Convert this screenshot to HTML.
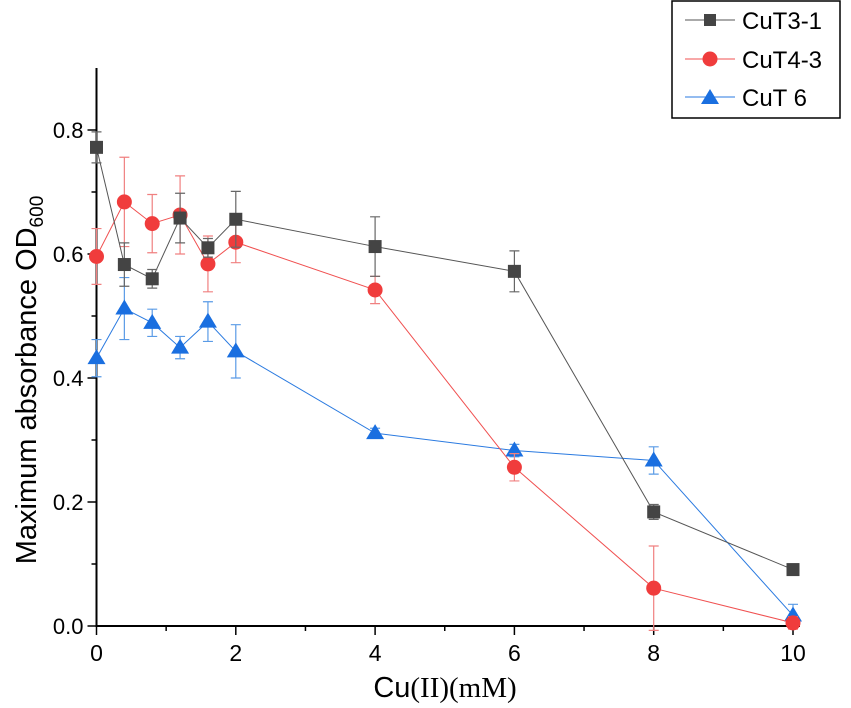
<!DOCTYPE html>
<html><head><meta charset="utf-8"><style>
html,body{margin:0;padding:0;background:#fff;}
svg{display:block;font-family:"Liberation Sans",Arial,sans-serif;}
</style></head><body>
<svg id="chart" width="851" height="708" viewBox="0 0 851 708" xmlns="http://www.w3.org/2000/svg">
<g id="axes"></g>
<g id="series"></g>
<text x="445" y="697" text-anchor="middle" font-size="29">Cu<tspan font-family="Liberation Serif, serif">(II)(mM)</tspan></text>
<text transform="translate(36,380) rotate(-90)" text-anchor="middle" font-size="29">Maximum absorbance OD<tspan font-size="19" dy="7">600</tspan></text>
<g>
<rect x="672" y="1" width="168" height="117" fill="#fff" stroke="#000" stroke-width="1.5"/>
<line x1="685" y1="20" x2="735" y2="20" stroke="#555" stroke-width="1"/>
<rect x="704" y="14" width="12" height="12" fill="#444"/>
<text x="742" y="29" font-size="24">CuT3-1</text>
<line x1="685" y1="59" x2="735" y2="59" stroke="#f05050" stroke-width="1"/>
<circle cx="710" cy="59" r="7.5" fill="#f03c3c"/>
<text x="742" y="68" font-size="24">CuT4-3</text>
<line x1="685" y1="97" x2="735" y2="97" stroke="#2a7ae0" stroke-width="1"/>
<polygon points="710,89 719,104 701,104" fill="#1a6fe0"/>
<text x="742" y="106" font-size="24">CuT 6</text>
</g>
</svg>
<script>
const xValues = [0, 0.4, 0.8, 1.2, 1.6, 2, 4, 6, 8, 10];
const cut31 = [0.772, 0.583, 0.560, 0.658, 0.610, 0.656, 0.612, 0.572, 0.184, 0.091];
const cut31Err = [0.025, 0.035, 0.015, 0.04, 0.015, 0.045, 0.048, 0.033, 0.012, 0.003];
const cut43 = [0.596, 0.684, 0.649, 0.663, 0.584, 0.619, 0.542, 0.256, 0.061, 0.005];
const cut43Err = [0.045, 0.072, 0.047, 0.063, 0.045, 0.033, 0.022, 0.022, 0.068, 0.01];
const cut6 = [0.432, 0.512, 0.489, 0.449, 0.491, 0.443, 0.311, 0.283, 0.267, 0.017];
const cut6Err = [0.03, 0.05, 0.022, 0.018, 0.032, 0.043, 0.008, 0.01, 0.022, 0.018];
const xTicks = [0, 2, 4, 6, 8, 10];
const yTicks = [0.0, 0.2, 0.4, 0.6, 0.8];
const yTickLabels = ["0.0", "0.2", "0.4", "0.6", "0.8"];

const NS = "http://www.w3.org/2000/svg";
const X0 = 96.5, X1 = 793, Y0 = 626, YPER = 620;
function xs(v){ return X0 + (X1 - X0) * v / 10; }
function ys(v){ return Y0 - YPER * v; }
function mk(tag, attrs, parent){
  const e = document.createElementNS(NS, tag);
  for (const k in attrs) e.setAttribute(k, attrs[k]);
  parent.appendChild(e);
  return e;
}
const axes = document.getElementById('axes');
let el = mk('line', {x1: X0, y1: 68, x2: X0, y2: Y0 + 1, stroke: '#000', 'stroke-width': 2}, axes);


el = mk('line', {x1: X0 - 1, y1: Y0, x2: 800, y2: Y0, stroke: '#000', 'stroke-width': 2}, axes);


for (let i = 0; i <= 10; i++) {
  const t = mk('line', {x1: xs(i), y1: Y0, x2: xs(i), y2: Y0 + (i % 2 ? 5 : 9), stroke: '#000', 'stroke-width': 1.5}, axes);
  
  
}
xTicks.forEach(v => {
  const t = mk('text', {x: xs(v), y: Y0 + 35, 'text-anchor': 'middle', 'font-size': 23}, axes);
  t.textContent = v;
  
  
});
for (let i = 0; i <= 8; i++) {
  const t = mk('line', {x1: X0, y1: ys(i / 10), x2: X0 - (i % 2 ? 5 : 9), y2: ys(i / 10), stroke: '#000', 'stroke-width': 1.5}, axes);
  
  
}
yTicks.forEach((v, i) => {
  const t = mk('text', {x: X0 - 13, y: ys(v) + 8, 'text-anchor': 'end', 'font-size': 22}, axes);
  t.textContent = yTickLabels[i];
  
  
});

const sg = document.getElementById('series');
function drawSeries(vals, errs, lineColor, errColor, fill, shape, name){
  const g = mk('g', {}, sg);
  
  
  const pts = vals.map((v, i) => xs(xValues[i]) + ',' + ys(v)).join(' ');
  const pl = mk('polyline', {points: pts, fill: 'none', stroke: lineColor, 'stroke-width': 1}, g);
  
  
  vals.forEach((v, i) => {
    const x = xs(xValues[i]), yt = ys(v + errs[i]), yb = ys(v - errs[i]);
    const eb = mk('path', {d: `M${x},${yt}V${yb}M${x-5},${yt}H${x+5}M${x-5},${yb}H${x+5}`, stroke: errColor, 'stroke-width': 1.2, fill: 'none'}, g);
    
    
  });
  vals.forEach((v, i) => {
    const x = xs(xValues[i]), y = ys(v);
    let m;
    if (shape === 'square') m = mk('rect', {x: x - 6.5, y: y - 6.5, width: 13, height: 13, fill: fill}, g);
    else if (shape === 'circle') m = mk('circle', {cx: x, cy: y, r: 7.5, fill: fill}, g);
    else m = mk('polygon', {points: `${x},${y-9} ${x+9},${y+6} ${x-9},${y+6}`, fill: fill}, g);
    
    
  });
}
drawSeries(cut6, cut6Err, '#2a7ae0', '#5a9be6', '#1a6fe0', 'triangle', 'cut6');
drawSeries(cut43, cut43Err, '#f05050', '#f08080', '#f03c3c', 'circle', 'cut4-3');
drawSeries(cut31, cut31Err, '#555', '#666', '#444', 'square', 'cut3-1');
</script>
</body></html>
